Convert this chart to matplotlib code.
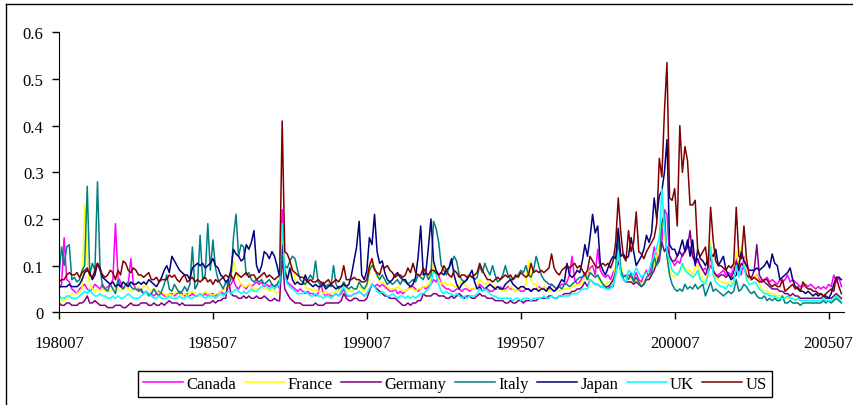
import matplotlib
matplotlib.use('Agg')
import matplotlib.pyplot as plt
import numpy as np
from matplotlib.lines import Line2D

plt.rcParams['font.family'] = ['Liberation Serif', 'DejaVu Serif']

# monthly values x100, 198007 .. 200512 (one row per year)
canada = [
    5, 6, 16, 7, 6.5, 5,
    4.5, 4, 5, 5.5, 6, 5, 4.5, 5, 6, 5.5, 5, 6,
    5, 5.5, 6, 7, 19, 7.5, 6.5, 5, 5.5, 6, 11.5, 6,
    5, 5, 4.5, 4, 4.5, 4, 4, 3.5, 4, 4.5, 4, 3.5,
    3.5, 4, 4, 3.5, 4, 4.5, 4, 3.5, 4, 3.5, 4, 3.5,
    3.5, 4, 3.5, 4, 3.5, 4, 4, 3.5, 4, 4.5, 4, 4,
    5.5, 6, 7, 5.5, 5, 6, 5.5, 5, 6, 5.5, 6, 6.5,
    6, 6.5, 5.5, 6, 5.5, 6, 5.5, 6, 5, 22, 8, 6.5,
    6, 5.5, 5, 4.5, 5, 4.5, 4, 4.5, 4, 4, 3.5, 4,
    6.5, 4, 3.5, 4, 3.5, 3.5, 4, 3.5, 4, 5, 3.5, 3.5,
    3.5, 4, 4, 4.5, 4, 3.5, 4, 5, 6, 5.5, 6, 5.5,
    6, 5.5, 5, 4.5, 4.5, 5, 4, 4.5, 4, 4.5, 5, 5.5,
    5.5, 5, 4.5, 5, 5.5, 5, 5.5, 6, 7, 6.5, 8, 6,
    5.5, 5, 5, 4.5, 4.5, 5, 5, 4.5, 5, 5, 4.5, 5,
    5, 5.5, 6, 5.5, 5, 5, 4.5, 4.5, 5, 5, 5.5, 5,
    5, 5.5, 5, 5, 4.5, 5, 4.5, 4.5, 5, 5, 4.5, 5,
    5, 5.5, 5, 5.5, 5, 5, 6, 5.5, 5, 5.5, 6, 6,
    6.5, 8, 12, 7, 6, 6.5, 7.5, 8.5, 7, 9.5, 10, 8,
    13.5, 9, 8, 7.5, 8, 7, 8.5, 9.5, 15, 9, 8, 7.5,
    8, 7.5, 7, 8.5, 7, 6.5, 8, 9, 7.5, 10.5, 14, 12,
    11, 15, 22, 21, 12, 11, 10, 11, 10.5, 12.5, 13, 14,
    14, 12, 10.5, 11, 10, 9, 9.5, 8.5, 10, 9, 8, 8,
    8.5, 9, 8, 8.5, 8, 9.5, 12, 9, 8, 12, 8, 7,
    7, 7.5, 8, 7, 6.5, 7, 7.5, 6.5, 7, 6.5, 6, 7,
    6.5, 7, 8, 6.5, 7, 6.5, 6, 5.5, 5.5, 6, 5.5, 6,
    5.5, 5, 5.5, 5, 5.5, 5, 6, 5.5, 8, 6.5, 7.5, 5.5,
]

france = [
    3, 2.5, 2.5, 3, 3.5, 4,
    4, 4, 4.5, 5, 23, 11, 6, 5, 4.5, 5, 4.5, 5,
    4.5, 5, 4.5, 5, 5.5, 5, 4.5, 5, 5.5, 5, 4.5, 5,
    5, 5.5, 5, 5.5, 6, 5, 4.5, 5, 4.5, 4, 4.5, 4,
    3.5, 4, 3.5, 4, 4.5, 4, 3.5, 4, 3.5, 4, 4.5, 4,
    4, 3.5, 4, 4.5, 4, 4, 3.5, 4, 4, 4.5, 5, 5,
    5.5, 8, 11, 9, 7, 6, 5.5, 5.5, 6, 5.5, 5, 5,
    5, 5.5, 5, 5, 4.5, 5, 4.5, 4, 4.5, 16, 10, 7,
    8, 10, 7, 6.5, 6, 6.5, 5.5, 5, 5, 4.5, 5, 4.5,
    4.5, 4, 4.5, 4, 4, 4, 4.5, 4.5, 5, 6.5, 5, 4.5,
    4.5, 5, 5, 5.5, 5, 4.5, 5.5, 8, 11, 9, 7.5, 6.5,
    6.5, 6, 5.5, 5, 5, 5, 5.5, 5, 4.5, 4.5, 5, 5,
    5, 4.5, 5, 5, 5.5, 5.5, 6, 7, 10.5, 8, 7, 6,
    6.5, 6, 6, 6, 5.5, 5.5, 6, 7, 6, 5.5, 5, 5,
    5, 5.5, 7, 6.5, 6, 6.5, 6, 5.5, 5.5, 5, 5, 4.5,
    4.5, 5, 5.5, 5, 4.5, 5, 5, 5.5, 6, 11, 7, 6,
    6, 5, 5, 5.5, 5, 4.5, 5, 4.5, 4.5, 4.5, 5, 5,
    5, 5, 5.5, 5.5, 6, 6, 6.5, 8, 7, 9, 8, 7.5,
    7.5, 6.5, 6, 6, 6.5, 6.5, 7, 10, 15, 10, 8, 7.5,
    7.5, 7, 6.5, 7, 6.5, 6, 6.5, 7, 7.5, 8.5, 10, 12,
    14, 20, 17, 12, 9, 8, 7.5, 8, 8.5, 10, 9.5, 9,
    9, 8, 9.5, 10, 8, 7, 6.5, 8.5, 15, 9, 7.5, 7,
    6.5, 6.5, 6, 6.5, 6.5, 8, 13, 10, 14, 11.5, 8, 7,
    7, 7.5, 8, 6, 5, 4.5, 4.5, 4, 4, 4, 3.5, 3.5,
    3.5, 3, 3, 3, 3, 2.5, 3, 2.5, 2.5, 2.5, 2.5, 2.5,
    2.5, 2.5, 2.5, 2.5, 3, 2.5, 2.5, 2.5, 3, 3.5, 3, 3,
]

germany = [
    2, 1.5, 1.5, 2, 2, 1.5,
    1.5, 1.5, 2, 2, 2.5, 3.5, 2, 2, 2.5, 2, 1.5, 1.5,
    1.5, 1, 1, 1, 1.5, 1.5, 1.5, 1, 1, 1.5, 2, 1.5,
    1.5, 1.5, 2, 2, 2, 1.5, 1.5, 2, 1.5, 1.5, 2, 1.5,
    2, 2.5, 2, 2, 2, 1.5, 2, 1.5, 1.5, 1.5, 1.5, 1.5,
    1.5, 1.5, 1.5, 2, 2, 2, 2.5, 2, 2.5, 2.5, 3, 3,
    7, 4, 3.5, 3.5, 3, 3, 3.5, 3, 3.5, 3, 3, 3.5,
    3, 3, 3.5, 3, 2.5, 2.5, 3, 2.5, 2.5, 12, 5, 4,
    3, 2.5, 2, 2, 2, 1.5, 1.5, 1.5, 1.5, 1.5, 2, 1.5,
    1.5, 1.5, 2, 2, 2, 2, 2, 2, 2.5, 4, 3, 2.5,
    2.5, 3, 3, 2.5, 2.5, 2.5, 3, 4.5, 6, 5.5, 5, 4.5,
    4, 3.5, 3.5, 3, 3, 3, 2.5, 2, 1.5, 1.5, 2, 1.5,
    2, 2, 2.5, 2.5, 4, 3.5, 3.5, 3.5, 4, 4, 3.5, 3.5,
    3.5, 3, 3, 3.5, 3, 3.5, 4, 3.5, 3, 3.5, 3.5, 3,
    3, 3.5, 4, 3.5, 3.5, 3, 3, 3, 2.5, 2.5, 2.5, 2.5,
    2, 2, 2.5, 2, 2, 2.5, 2.5, 2, 2.5, 2.5, 2.5, 2.5,
    2.5, 3, 3, 3, 3, 3.5, 3.5, 3, 3, 3.5, 3.5, 4,
    4, 4, 4.5, 4.5, 5, 5, 5.5, 6.5, 5.5, 7, 6.5, 6,
    6, 5.5, 5.5, 5.5, 5.5, 6, 7, 8.5, 11, 9, 7, 6.5,
    6.5, 6.5, 6, 6.5, 6, 5.5, 6, 7, 7, 8, 9, 10.5,
    12, 15, 13, 14, 12, 11, 11, 12, 13, 12, 13, 14,
    17.5, 12, 11, 11.5, 10, 9, 8, 9.5, 12, 9, 8, 7.5,
    8, 8, 7.5, 8, 7.5, 8.5, 11, 9, 10.5, 9.5, 8, 7.5,
    7.5, 9, 14.5, 8, 7, 6.5, 6, 5.5, 5, 5, 5, 4.5,
    4.5, 4, 4, 3.5, 4, 3.5, 3.5, 3, 3, 3, 3, 3,
    3, 3, 3, 3, 3.5, 3, 3, 3, 3.5, 4, 3.5, 3,
]

italy = [
    8, 14, 10, 14, 14.5, 7,
    7.5, 6.5, 7, 9, 10, 27, 8, 10.5, 9, 28, 9.5, 5.5,
    5, 4.5, 6, 5, 4, 7, 5.5, 5, 6, 6.5, 5.5, 5,
    5, 4.5, 5, 4, 4.5, 3.5, 4, 5, 4, 3.5, 4.5, 6,
    8, 5, 4.5, 6, 5, 4, 4.5, 5.5, 4.5, 6, 14, 5,
    6, 16.5, 7, 8, 19, 9, 15.5, 9.5, 7, 6, 5, 6.5,
    6, 7, 16, 21, 12, 14.5, 14, 8, 8.5, 7, 6.5, 7,
    6.5, 7, 6, 6.5, 7, 6, 5.5, 6, 7, 12, 10, 9.5,
    11, 12, 11.5, 9, 7, 6.5, 6, 7, 8, 7, 11, 6.5,
    6, 6.5, 5.5, 6, 5.5, 10, 6, 5, 5.5, 6.5, 5.5, 5,
    5.5, 5, 5, 6.5, 5.5, 5, 6, 9, 10, 9.5, 8, 7,
    8, 7, 6, 6.5, 6, 6.5, 7, 6, 7, 6.5, 6, 6.5,
    7, 6.5, 8, 7.5, 7, 8.5, 7, 8, 19.5, 18, 15, 10,
    9, 8, 9.5, 10.5, 12, 11, 8, 7, 6.5, 7, 8, 7.5,
    7, 7.5, 10, 8.5, 10.5, 9, 8, 10, 8, 6.5, 7, 8,
    10, 8, 7, 7, 7.5, 8, 9, 8.5, 10, 8, 7.5, 9,
    12, 10, 8, 7, 6.5, 6, 6, 5.5, 5, 5.5, 5, 6,
    6, 5.5, 6, 6.5, 7, 7.5, 7.5, 8, 7, 8.5, 8, 7.5,
    8, 7, 6, 5.5, 5, 5.5, 5.5, 9, 16, 9, 7.5, 8,
    7, 8.5, 6.5, 7.5, 6.5, 5.5, 6, 7.5, 8, 8.5, 12, 10,
    11, 19, 21.5, 12, 8, 6, 5, 4.5, 5, 4.5, 6, 5,
    5.5, 5, 6, 5, 5.5, 6, 3.5, 5, 6.5, 4.5, 5, 4.5,
    4, 3.5, 4, 4.5, 4, 4.5, 7, 4.5, 5, 6, 5.5, 4.5,
    4, 4.5, 3.5, 3, 3, 3.5, 2.5, 3, 2.5, 3, 2.5, 2.5,
    3.5, 2, 2, 2.5, 2, 2, 2, 1.5, 2, 2, 2, 2,
    2, 2, 2, 2, 2.5, 2, 2.5, 2, 2.5, 3, 2.5, 2,
]

japan = [
    5.5, 5.5, 5.5, 5.5, 6, 5.5,
    5.5, 5.5, 6, 7, 8.5, 9, 8.5, 7, 8, 10.5, 9.5, 7.5,
    7, 6.5, 6, 6.5, 5.5, 6, 5.5, 6.5, 6, 5.5, 6.5, 6,
    6, 6.5, 6, 6.5, 6, 7, 6.5, 6, 5.5, 6.5, 7.5, 9,
    10, 8.5, 12, 11, 10, 9, 8.5, 8, 8, 7, 9.5, 10,
    10.5, 10, 10.5, 9.5, 10, 10.5, 11.5, 10, 9.5, 8, 7.5, 6.5,
    7, 9, 13.5, 12.5, 12, 11, 11.5, 14.5, 13.5, 15, 17.5, 10,
    8.5, 10, 13, 12.5, 11.5, 13, 12, 10, 7.5, 14.5, 9, 7,
    9.5, 7, 6, 6.5, 6, 6, 8, 6.5, 6, 5.5, 6, 5.5,
    5.5, 6, 5, 5.5, 6, 5.5, 5, 5.5, 5.5, 6, 5.5, 6,
    8, 11, 14, 19.5, 8, 7, 9, 16, 14.5, 21, 13, 10.5,
    11, 8.5, 7, 6.5, 7, 8, 8.5, 7.5, 7, 7, 6, 5.5,
    6, 7.5, 12, 18.5, 8, 8.5, 14, 20, 11, 9, 8, 8.5,
    8, 9, 9.5, 11.5, 8, 6, 5, 6, 6.5, 7, 8, 9,
    6.5, 5, 5.5, 4.5, 5, 5.5, 6, 5.5, 5, 5.5, 5, 5,
    6, 6.5, 7, 6, 5.5, 5, 5.5, 5.5, 5, 5, 4.5, 5,
    5, 4.5, 5, 5, 4.5, 5.5, 5, 4.5, 5, 6, 7, 6.5,
    10.5, 8, 7.5, 8, 9, 8.5, 11, 14.5, 12, 16, 21, 17,
    18.5, 10.5, 9, 8, 9.5, 11, 12, 11.5, 18, 12, 12.5, 11.5,
    12, 16, 13, 10, 11, 12, 13.5, 16.5, 15, 17, 24.5, 20,
    25, 26, 30, 37, 14.5, 13.5, 13.5, 12, 13.5, 15.5, 13, 15.5,
    12, 15.5, 10, 13.5, 11.5, 11, 10, 11.5, 12.5, 12, 13.5, 10,
    11, 12, 9, 8, 7, 7.5, 8, 10, 13, 11, 10, 9,
    9, 9, 9.5, 9, 9.5, 10, 11, 9.5, 12.5, 10.5, 10, 7,
    7.5, 8, 8.5, 9.5, 7, 5.5, 5, 4.5, 4.5, 4, 4.5, 4,
    3.5, 4, 3.5, 4, 3.5, 3.5, 3, 4, 6, 7.5, 7.5, 7,
]

uk = [
    3.5, 3, 3, 3.5, 3.5, 3,
    3, 3, 3.5, 4, 4.5, 4, 5, 4, 3.5, 3.5, 4, 3.5,
    3.5, 3, 3, 3.5, 3, 3.5, 3, 3, 3.5, 4, 3.5, 3,
    3, 3, 3.5, 4, 4.5, 4, 3.5, 3, 3, 3.5, 3, 3,
    3, 3.5, 3, 3, 3, 3.5, 3, 3, 3.5, 3, 3, 3.5,
    3.5, 4, 3.5, 3, 3.5, 3.5, 3.5, 3, 3.5, 4, 3.5, 4,
    4.5, 4, 4.5, 5, 4.5, 4, 4.5, 4, 4.5, 5, 4.5, 4.5,
    5, 5.5, 6, 5.5, 5, 5.5, 5, 5.5, 6, 19, 8, 6,
    5.5, 5, 4.5, 4, 4, 4, 4.5, 4, 3.5, 3.5, 4, 3.5,
    3.5, 3, 3.5, 3.5, 3, 3.5, 4, 3.5, 4.5, 5.5, 4, 3.5,
    3.5, 4, 4, 4.5, 4, 3.5, 4, 5, 6, 5.5, 4.5, 4,
    4.5, 4, 3.5, 3.5, 4, 3.5, 3, 3.5, 3.5, 3, 3.5, 3,
    3.5, 3, 3.5, 4, 4, 4.5, 5, 6, 9, 8, 6, 4.5,
    4, 4.5, 4, 4, 3.5, 4, 3.5, 3, 3.5, 3, 3.5, 3.5,
    3.5, 4, 5, 4.5, 5, 4.5, 4, 3.5, 3.5, 3, 3, 3,
    3, 3, 3, 2.5, 3, 3, 2.5, 3, 3, 3, 2.5, 3,
    3, 3, 3, 3.5, 3, 3, 3.5, 3, 3, 3.5, 3.5, 3.5,
    3.5, 3.5, 4, 4, 4, 4.5, 5, 5, 5, 7, 6.5, 6,
    6, 5.5, 5.5, 5, 5, 5, 6, 8, 13, 8, 7, 6.5,
    9, 8.5, 8, 9.5, 8.5, 7.5, 8, 8.5, 9, 11, 12, 14,
    16, 26.5, 18, 13, 11, 9, 8.5, 8, 9, 10.5, 9, 8.5,
    8, 7.5, 8, 9, 7, 6.5, 6, 8, 14, 8, 6.5, 6,
    5.5, 5.5, 5, 6, 5.5, 6.5, 10, 7.5, 9.5, 10, 7, 6,
    6, 6.5, 6, 5, 4.5, 4, 4, 3.5, 3.5, 3.5, 3, 3,
    3, 3, 3.5, 3, 3, 2.5, 3, 2.5, 2.5, 2.5, 2.5, 2.5,
    2.5, 2.5, 2.5, 2.5, 3, 2.5, 2.5, 2.5, 3, 3.5, 3, 2.5,
]

us = [
    6.5, 7, 7, 8, 8.5, 8,
    8, 8.5, 7.5, 8.5, 9, 9.5, 8, 7.5, 9, 10.5, 9, 8,
    7.5, 8, 9, 8.5, 7, 9, 8, 11, 10.5, 9, 8.5, 9.5,
    9, 8, 8, 7.5, 8, 8.5, 7, 7, 7.5, 6.5, 7, 7,
    7, 8, 7.5, 8, 7, 6.5, 7.5, 8, 6.5, 7, 7.5, 6.5,
    7, 6.5, 7, 7.5, 6.5, 7, 6, 7, 6.5, 7, 7.5, 8,
    7.5, 8, 7, 8.5, 8, 7.5, 8, 8.5, 7.5, 8, 8, 7,
    7.5, 8, 8.5, 7.5, 8, 7.5, 7, 7.5, 8, 41, 13, 12.5,
    11, 9, 8.5, 8, 7.5, 7.5, 7, 6.5, 7, 6.5, 6.5, 7,
    6.5, 6, 6.5, 7, 6, 6.5, 7, 6.5, 7.5, 10, 7, 7,
    7, 7.5, 7, 7, 6.5, 6.5, 7, 10, 11.5, 9, 8.5, 8,
    10, 9.5, 10, 9, 8.5, 7.5, 8, 8, 7.5, 8, 9.5, 8.5,
    10.5, 8.5, 8, 8, 9.5, 8.5, 8, 9, 9, 8.5, 8, 8.5,
    10, 9, 8, 7.5, 9, 8.5, 7.5, 8, 8, 7.5, 8, 7.5,
    8, 8.5, 10.5, 9, 8, 7, 7, 6.5, 7, 7.5, 7, 7.5,
    8, 7.5, 8, 7, 8, 7.5, 8.5, 8, 7.5, 8, 10.5, 8.5,
    9, 8.5, 9, 8.5, 9, 9.5, 12.5, 9.5, 8.5, 8, 9, 9.5,
    10, 9.5, 10, 10.5, 9.5, 10, 9, 8, 9, 12, 11, 10,
    9.5, 10, 10.5, 10, 10.5, 9.5, 11, 15, 24.5, 17, 12, 11,
    17.5, 13, 15, 21.5, 13, 12.5, 11.5, 13, 14, 15, 16, 19,
    33, 29, 43, 53.5, 24.5, 24, 26.5, 18.5, 40, 30, 35.5, 32.5,
    23, 23, 24, 13, 12, 13, 14, 9.5, 22.5, 15.5, 11, 10,
    10, 9.5, 9, 10, 9.5, 10.5, 22.5, 12, 11.5, 18.5, 11.5, 8,
    7, 7.5, 7, 6.5, 6.5, 7, 7, 6, 5.5, 6, 5.5, 5.5,
    7, 4.5, 5, 5.5, 6, 5, 5.5, 4.5, 6.5, 5.5, 5, 5,
    4.5, 4.5, 4, 4, 3.5, 4, 4.5, 5, 4.5, 7.5, 5.5, 4,
]

countries = ['Canada', 'France', 'Germany', 'Italy', 'Japan', 'UK', 'US']
series = [canada, france, germany, italy, japan, uk, us]
colors = ['#FF00FF', '#FFFF00', '#800080', '#008080', '#000080', '#00FFFF', '#800000']

x_tick_pos = [0, 60, 120, 180, 240, 300]
x_tick_labels = ['198007', '198507', '199007', '199507', '200007', '200507']
y_ticks = [0, 0.1, 0.2, 0.3, 0.4, 0.5, 0.6]
y_tick_labels = ['0', '0.1', '0.2', '0.3', '0.4', '0.5', '0.6']

fig = plt.figure(figsize=(8.54, 4.06), dpi=100)
ax = fig.add_axes([59 / 854, 1 - 313.3 / 406, 785 / 854, 280 / 406])

for name, vals, c in zip(countries, series, colors):
    vals = np.array(vals) / 100.0
    ax.plot(np.arange(len(vals)), vals, color=c, lw=1.1, label=name)

ax.set_xlim(0, 306)
ax.set_ylim(0, 0.6)
ax.spines['top'].set_visible(False)
ax.spines['right'].set_visible(False)
ax.set_xticks(x_tick_pos, x_tick_labels)
ax.set_yticks(y_ticks, y_tick_labels)
ax.tick_params(axis='both', direction='out', length=5, width=1, labelsize=12)
ax.tick_params(axis='x', pad=11)
ax.tick_params(axis='y', pad=6)

fig.legend(loc='center', bbox_to_anchor=(455 / 854, 1 - 385 / 406), ncol=7,
           frameon=True, fancybox=False, edgecolor='black', fontsize=12,
           handlelength=2.4, handletextpad=0.2, columnspacing=0.5,
           borderpad=0.3, framealpha=1)

# outer chart frame (left and top edges visible)
fig.add_artist(Line2D([6 / 854, 6 / 854], [0, 1 - 5 / 406], transform=fig.transFigure, color='black', lw=1))
fig.add_artist(Line2D([6 / 854, 1], [1 - 5 / 406, 1 - 5 / 406], transform=fig.transFigure, color='black', lw=1))

fig.savefig('out.png', dpi=100)
